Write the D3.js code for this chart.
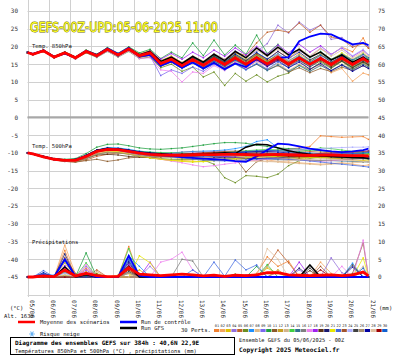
<!DOCTYPE html>
<html><head><meta charset="utf-8">
<script src="https://cdn.jsdelivr.net/npm/d3@7/dist/d3.min.js"></script>
<style>body{margin:0;background:#fff}svg{display:block}</style>
</head><body>
<svg id="c" width="395" height="355"></svg>
<script>
// ---------------- DATA ----------------
const hours = [0,6,18,30,42,54,66,78,90,102,114,126,138,150,162,174,186,198,210,222,234,246,258,270,282,294,306,318,330,342,354,366,378,384];
const dayLabels = ["05/06","06/06","07/06","08/06","09/06","10/06","11/06","12/06","13/06","14/06","15/06","16/06","17/06","18/06","19/06","20/06","21/06"];
const leftTicks = [30,25,20,15,10,5,0,-5,-10,-15,-20,-25,-30,-35,-40,-45];
const rightTicks = [75,70,65,60,55,50,45,40,35,30,25,20,15,10,5,0];
const memberNames = ["01","02","03","04","05","06","07","08","09","10","11","12","13","14","15","16","17","18","19","20","21","22","23","24","25","26","27","28","29","30"];
const memberColors = ["#f08030","#f4a460","#e0c000","#9370db","#c0602a","#6b8e23","#1e90ff","#deb887","#7b68ee","#20a040","#8b5a2b","#c8a020","#d2b48c","#40d040","#2f6f8f","#808080","#ee82ee","#a020f0","#5c3317","#191970","#e8e800","#4169e1","#a0522d","#b0b0ff","#404040","#a89070","#0000a0","#e0c0a0","#a00000","#1060d0"];

const t850Mean = [18.3,17.8,18.8,17.0,18.2,16.8,18.6,17.4,19.2,17.6,19.3,17.4,18.2,15.2,16.4,14.6,16.3,14.7,16.6,14.9,16.8,15.0,16.9,15.1,17.0,15.0,16.8,15.0,16.6,14.9,16.7,14.9,16.6,15.6];
const t850Control = [18.3,17.9,18.9,17.1,18.0,16.9,18.8,17.6,19.4,17.9,19.6,17.2,17.6,14.6,15.8,14.0,15.5,13.8,15.4,13.6,15.2,14.2,16.5,14.9,16.8,17.0,21.5,22.8,23.6,23.4,22.0,20.6,21.0,20.4];
const t850Gfs = [18.4,17.9,18.9,17.1,18.3,16.9,18.7,17.6,19.4,17.7,19.5,17.6,18.6,15.8,17.0,15.2,17.2,15.6,17.8,16.0,18.6,16.8,19.6,17.4,19.8,17.6,19.2,17.0,18.4,16.2,17.6,15.6,17.0,16.0];
const t850Perts = [
[18.4,17.9,18.9,17.2,18.4,17.0,18.9,17.8,19.6,17.9,19.8,17.9,18.9,15.9,17.2,15.5,17.0,15.3,17.1,15.4,17.5,15.8,17.9,16.3,18.6,16.8,18.9,17.0,19.4,17.6,19.8,18.5,22.4,19.5],
[18.2,17.7,18.6,16.9,18.0,16.6,18.3,17.1,18.8,17.3,18.9,16.9,17.5,14.6,15.8,14.0,15.5,13.8,15.7,14.0,16.0,14.2,16.2,14.5,16.4,14.3,16.0,13.6,15.0,12.6,13.8,10.2,12.5,12.0],
[18.3,17.8,18.7,17.1,18.3,16.9,18.7,17.5,19.4,17.8,19.5,17.8,18.7,16.0,17.3,15.4,17.2,15.7,17.8,16.0,18.2,16.3,18.1,15.9,17.4,15.2,16.5,14.6,16.0,14.2,15.8,14.1,15.9,15.0],
[18.3,17.8,18.8,17.0,18.1,16.8,18.5,17.3,19.0,17.5,19.1,17.3,18.0,15.4,16.8,15.3,17.2,15.6,17.9,16.4,18.8,17.0,18.6,20.8,26.0,23.8,26.9,24.6,26.0,22.0,22.5,20.2,21.0,20.0],
[18.2,17.7,18.7,16.9,18.2,16.7,18.6,17.2,19.1,17.5,19.2,17.0,17.7,15.0,16.2,14.5,16.6,15.2,17.4,15.8,18.2,17.5,21.0,24.0,24.6,24.0,26.6,24.0,26.0,22.7,22.0,19.8,20.8,19.5],
[18.2,17.7,18.6,16.9,18.0,16.5,18.2,16.9,18.6,17.0,18.6,16.6,17.0,14.0,15.0,13.0,14.2,11.4,12.8,9.0,12.4,10.2,12.0,10.0,11.6,12.5,14.8,13.4,15.6,13.8,15.8,13.6,15.4,14.4],
[18.4,17.9,18.9,17.1,18.3,17.0,18.8,17.6,19.5,17.9,19.6,17.7,18.6,15.8,17.0,15.0,16.8,15.3,17.2,15.6,17.9,16.0,18.3,16.5,18.0,16.0,17.5,15.5,17.0,15.0,16.5,14.4,16.0,15.2],
[18.3,17.8,18.8,17.0,18.2,16.8,18.7,17.5,19.3,17.7,19.4,17.6,18.4,15.5,16.9,14.9,16.6,14.8,16.4,14.5,16.0,14.0,15.7,13.5,15.2,13.2,15.0,13.0,14.8,13.2,15.0,13.4,15.2,14.4],
[18.2,17.6,18.6,16.8,18.0,16.5,18.4,17.1,18.9,17.3,19.0,17.0,17.4,11.8,13.4,12.4,14.2,13.0,15.0,13.5,15.6,13.9,16.0,14.2,16.4,14.6,16.8,15.0,17.2,15.2,17.4,15.4,17.5,16.2],
[18.4,17.9,19.0,17.2,18.5,17.1,19.0,17.8,19.7,18.1,19.9,18.2,19.2,16.6,18.4,16.8,21.0,17.4,21.8,17.6,20.4,17.8,23.2,18.0,20.6,17.2,19.4,16.8,18.6,16.4,18.0,16.0,17.6,16.4],
[18.3,17.7,18.7,16.9,18.1,16.7,18.5,17.2,19.0,17.4,19.1,17.2,17.9,15.0,16.0,14.2,15.8,14.0,15.6,13.9,15.4,13.6,15.0,13.4,14.6,12.8,14.0,12.6,13.8,12.9,14.2,13.2,14.6,13.8],
[18.3,17.8,18.8,17.1,18.3,16.9,18.7,17.5,19.3,17.7,19.4,17.5,18.3,15.4,16.6,14.8,16.6,15.0,17.0,15.4,17.4,15.6,17.6,15.8,17.8,15.9,17.9,16.0,17.6,15.6,17.2,15.2,16.8,15.8],
[18.2,17.8,18.7,17.0,18.2,16.8,18.6,17.4,19.2,17.6,19.3,17.4,18.1,15.1,16.3,14.3,15.9,14.2,16.0,14.2,16.0,14.3,16.2,14.6,16.6,14.8,17.0,15.4,17.5,16.0,18.0,16.4,18.2,17.0],
[18.3,17.9,18.9,17.2,18.4,17.0,18.8,17.6,19.4,17.8,19.5,17.6,18.5,15.7,17.0,15.2,17.0,15.4,17.4,15.5,17.6,15.6,17.6,15.6,17.4,15.3,17.0,15.0,16.6,14.6,16.2,14.2,15.8,14.8],
[18.3,17.8,18.8,17.0,18.2,16.8,18.6,17.3,19.1,17.5,19.2,17.3,17.9,14.8,16.0,14.0,15.5,13.8,15.4,13.6,15.2,13.5,15.0,13.2,14.8,13.0,14.6,13.0,14.6,13.2,14.8,13.5,15.0,14.2],
[18.3,17.8,18.8,17.0,18.2,16.8,18.7,17.4,19.2,17.6,19.3,17.5,18.3,15.3,16.5,14.7,16.4,14.8,16.6,15.0,16.9,15.2,17.1,15.3,17.2,15.2,17.0,15.1,16.8,15.0,16.9,15.0,16.8,15.7],
[18.3,17.7,18.7,16.9,18.1,16.6,18.4,17.0,18.7,17.1,18.8,16.6,16.8,13.4,13.0,10.0,12.8,12.4,14.6,13.2,15.4,13.8,16.0,14.3,16.5,14.6,16.8,14.8,17.0,15.0,17.2,15.2,17.4,16.0],
[18.3,17.9,18.9,17.1,18.3,16.9,18.8,17.5,19.4,17.8,19.5,17.7,18.7,16.4,18.0,16.4,18.4,16.8,19.0,17.2,19.6,17.6,20.0,17.8,20.4,18.2,20.6,18.4,20.2,17.8,19.6,17.2,19.0,17.6],
[18.2,17.7,18.6,16.8,18.0,16.6,18.4,17.1,18.9,17.3,19.0,17.0,17.5,14.4,15.6,13.8,15.6,14.0,16.0,14.4,16.4,14.8,16.8,15.0,17.0,15.1,16.9,14.8,16.4,14.4,16.0,14.0,15.6,14.8],
[18.4,17.9,18.9,17.1,18.3,16.9,18.7,17.5,19.3,17.7,19.4,17.6,18.4,15.4,16.7,15.0,16.9,15.3,17.3,15.6,17.8,16.0,18.2,16.4,18.6,16.6,18.4,16.2,17.8,15.6,17.2,15.0,16.6,15.6],
[18.3,17.8,18.8,17.0,18.2,16.8,18.6,17.4,19.2,17.6,19.3,17.4,18.2,15.2,16.4,14.6,16.2,14.6,16.4,14.7,16.5,14.8,16.6,14.9,16.8,15.2,17.3,15.6,17.8,16.0,18.2,16.2,18.0,16.8],
[18.3,17.8,18.7,16.9,18.1,16.7,18.5,17.2,19.0,17.4,19.1,17.1,17.8,14.6,15.8,13.8,15.4,13.6,15.2,13.4,15.0,13.4,15.2,13.6,15.6,14.0,16.0,14.4,16.4,14.8,16.8,15.0,17.0,15.6],
[18.2,17.8,18.7,17.0,18.2,16.8,18.6,17.4,19.2,17.6,19.3,17.5,18.2,15.2,16.4,14.7,16.5,14.9,16.9,15.4,17.4,15.8,17.8,16.0,17.6,15.6,17.2,15.2,16.8,14.8,16.4,14.5,16.2,15.2],
[18.3,17.8,18.8,17.0,18.2,16.8,18.6,17.4,19.2,17.6,19.3,17.4,18.2,15.0,16.2,14.4,16.0,14.4,16.2,14.6,16.4,14.8,16.8,15.2,17.6,16.2,18.8,17.2,19.6,17.6,19.8,17.4,19.2,17.6],
[18.3,17.8,18.8,17.0,18.2,16.8,18.7,17.5,19.3,17.7,19.4,17.6,18.4,15.6,16.9,15.1,16.9,15.2,17.1,15.3,17.2,15.2,17.0,14.9,16.6,14.5,16.2,14.2,16.0,14.0,15.9,14.0,15.8,14.8],
[18.2,17.7,18.7,16.9,18.1,16.7,18.5,17.3,19.1,17.5,19.2,17.3,18.0,15.0,16.2,14.5,16.2,14.6,16.5,14.9,16.9,15.2,17.2,15.4,17.4,15.4,17.2,15.2,17.0,15.0,16.8,14.7,16.5,15.4],
[18.3,17.9,18.9,17.1,18.3,16.9,18.8,17.5,19.3,17.7,19.4,17.5,18.4,15.4,16.6,14.8,16.5,14.8,16.6,14.8,16.6,14.7,16.4,14.4,16.0,14.0,15.6,13.6,15.2,13.2,14.8,13.0,14.6,13.8],
[18.3,17.8,18.8,17.0,18.2,16.8,18.6,17.3,19.1,17.5,19.2,17.4,18.1,15.6,17.2,15.5,17.4,15.9,18.0,16.4,18.6,16.8,19.0,17.1,19.3,17.3,19.5,17.4,19.4,17.2,19.0,16.8,18.6,17.4],
[18.3,17.8,18.8,17.0,18.2,16.8,18.7,17.4,19.2,17.6,19.3,17.5,18.3,15.3,16.5,14.8,16.4,14.8,16.4,14.7,16.3,14.6,16.2,14.6,16.3,14.8,16.6,15.0,16.9,15.2,17.0,15.2,16.9,15.8],
[18.3,17.8,18.8,17.0,18.2,16.8,18.6,17.3,19.0,17.4,19.1,17.2,17.9,14.9,16.0,14.2,15.8,14.2,15.9,14.3,16.1,14.5,16.4,14.8,16.8,15.2,17.2,15.6,17.6,16.0,17.8,16.2,17.8,16.8]
];

const t500Mean = [-10.0,-10.3,-11.1,-11.8,-12.1,-12.1,-11.0,-9.6,-9.0,-9.1,-9.6,-10.1,-10.4,-10.6,-10.7,-10.7,-10.6,-10.5,-10.5,-10.4,-10.4,-10.5,-10.6,-10.5,-10.4,-10.5,-10.6,-10.7,-10.6,-10.6,-10.7,-10.8,-10.8,-10.9];
const t500Control = [-10.0,-10.3,-11.1,-11.8,-12.1,-12.0,-10.9,-9.5,-8.9,-9.0,-9.4,-9.9,-10.3,-10.6,-10.9,-11.2,-11.4,-11.6,-11.8,-12.0,-12.3,-12.5,-11.0,-9.2,-7.4,-7.6,-8.2,-8.8,-9.2,-9.6,-9.8,-9.6,-9.2,-8.8];
const t500Gfs = [-10.0,-10.3,-11.0,-11.7,-12.0,-11.9,-10.8,-9.3,-8.8,-8.9,-9.3,-9.8,-10.1,-10.3,-10.5,-10.6,-10.6,-10.4,-10.2,-10.0,-10.2,-8.4,-7.6,-7.7,-8.6,-9.4,-10.0,-10.4,-10.8,-11.0,-11.2,-11.3,-11.4,-11.5];
const t500Perts = [
[-10.0,-10.3,-11.0,-11.7,-12.0,-12.0,-10.8,-9.4,-8.8,-9.0,-9.5,-10.0,-10.2,-10.3,-10.1,-9.8,-9.6,-9.8,-10.0,-10.2,-10.0,-9.8,-9.6,-9.5,-9.2,-9.0,-8.6,-8.2,-5.2,-5.4,-5.6,-5.5,-5.4,-6.2],
[-10.0,-10.4,-11.2,-11.9,-12.3,-12.4,-11.5,-10.2,-9.6,-9.8,-10.3,-10.9,-11.4,-11.8,-12.0,-12.2,-12.0,-11.8,-11.5,-11.2,-11.0,-11.2,-11.6,-12.0,-12.4,-12.6,-12.8,-13.0,-13.2,-13.0,-12.8,-13.2,-13.6,-13.4],
[-10.0,-10.3,-11.1,-11.8,-12.2,-12.3,-11.3,-9.9,-9.4,-9.6,-10.2,-10.8,-11.3,-11.8,-12.2,-12.4,-12.6,-12.4,-12.0,-11.6,-11.2,-11.0,-10.9,-11.2,-11.6,-11.8,-11.6,-11.4,-11.2,-11.4,-11.7,-12.0,-12.2,-12.0],
[-10.0,-10.2,-11.0,-11.6,-11.9,-11.8,-10.6,-9.2,-8.6,-8.7,-9.1,-9.6,-9.9,-10.1,-10.3,-10.2,-10.0,-9.8,-9.6,-9.5,-9.6,-9.8,-9.6,-9.4,-9.2,-9.0,-8.8,-9.0,-9.3,-9.6,-10.0,-10.4,-10.6,-10.8],
[-10.0,-10.3,-11.2,-12.0,-12.4,-12.6,-12.0,-11.0,-10.4,-10.0,-10.2,-10.6,-10.8,-10.9,-11.0,-11.2,-11.4,-11.2,-10.9,-10.6,-10.4,-10.2,-10.0,-9.8,-9.6,-9.5,-9.4,-9.6,-9.8,-10.0,-10.2,-10.0,-9.8,-9.6],
[-10.0,-10.4,-11.2,-11.9,-12.3,-12.4,-11.6,-10.4,-9.8,-9.9,-10.4,-11.0,-11.4,-11.6,-11.8,-11.9,-11.8,-12.0,-13.2,-17.0,-18.4,-16.4,-16.6,-17.0,-16.0,-13.6,-12.2,-11.6,-11.2,-11.0,-11.2,-11.4,-11.6,-11.8],
[-10.0,-10.3,-11.0,-11.7,-12.0,-11.9,-10.7,-9.2,-8.5,-8.6,-9.0,-9.5,-9.8,-10.0,-10.0,-9.8,-9.6,-9.5,-9.4,-9.2,-8.8,-8.2,-6.8,-6.3,-8.6,-9.6,-10.2,-10.6,-10.8,-11.0,-11.2,-11.4,-11.5,-11.6],
[-10.0,-10.3,-11.1,-11.8,-12.1,-12.0,-10.9,-9.5,-8.9,-9.0,-9.4,-9.9,-10.2,-10.4,-10.6,-10.8,-11.0,-11.2,-11.4,-11.6,-11.8,-12.0,-12.2,-12.4,-12.6,-12.8,-13.0,-13.2,-13.4,-13.2,-13.0,-12.8,-12.6,-12.4],
[-10.0,-10.3,-11.2,-11.9,-12.2,-12.1,-11.1,-9.7,-9.2,-9.4,-9.9,-10.4,-10.8,-11.0,-11.2,-11.0,-10.8,-10.6,-10.4,-10.2,-10.0,-10.0,-10.2,-10.4,-10.6,-10.8,-11.0,-11.2,-11.0,-10.8,-10.6,-10.4,-10.2,-10.0],
[-10.0,-10.3,-11.0,-11.6,-11.8,-11.6,-10.2,-8.4,-7.6,-7.5,-8.0,-8.6,-8.9,-9.0,-8.8,-8.6,-8.2,-7.8,-7.4,-7.1,-7.1,-7.3,-7.8,-8.2,-8.6,-8.8,-9.0,-9.2,-9.4,-9.6,-9.8,-10.0,-10.2,-10.4],
[-10.0,-10.4,-11.3,-12.0,-12.4,-12.6,-12.2,-11.8,-12.4,-12.0,-11.4,-11.2,-11.3,-11.2,-11.0,-10.8,-10.6,-10.6,-10.8,-11.0,-11.5,-15.4,-12.5,-11.6,-11.2,-11.0,-10.8,-10.6,-10.4,-10.6,-10.8,-11.0,-11.2,-11.4],
[-10.0,-10.3,-11.1,-11.8,-12.1,-12.1,-11.0,-9.6,-9.1,-9.3,-9.8,-10.3,-10.7,-11.0,-11.3,-11.6,-11.8,-12.0,-12.2,-12.0,-11.8,-11.5,-11.2,-11.0,-10.8,-10.9,-11.0,-11.2,-11.4,-11.6,-11.5,-11.4,-11.3,-11.2],
[-10.0,-10.3,-11.1,-11.8,-12.1,-12.0,-10.9,-9.5,-9.0,-9.1,-9.6,-10.1,-10.4,-10.6,-10.8,-11.0,-11.2,-11.4,-11.6,-11.5,-11.3,-11.0,-10.8,-10.5,-10.2,-10.0,-10.0,-10.2,-10.4,-10.6,-10.8,-11.0,-11.1,-11.2],
[-10.0,-10.2,-11.0,-11.7,-12.0,-11.9,-10.8,-9.3,-8.7,-8.8,-9.2,-9.6,-9.8,-9.9,-10.0,-10.1,-10.2,-10.2,-10.0,-9.8,-9.6,-9.4,-9.2,-9.0,-9.2,-9.4,-9.6,-9.2,-8.6,-8.8,-9.2,-9.6,-9.9,-10.2],
[-10.0,-10.3,-11.1,-11.8,-12.1,-12.1,-11.1,-9.7,-9.2,-9.4,-9.9,-10.4,-10.8,-11.0,-11.1,-11.2,-11.2,-11.1,-11.0,-11.0,-11.2,-11.4,-11.6,-11.8,-11.9,-12.0,-12.0,-12.1,-12.2,-12.2,-12.3,-12.4,-12.5,-12.6],
[-10.0,-10.3,-11.1,-11.8,-12.1,-12.1,-11.0,-9.6,-9.0,-9.1,-9.6,-10.1,-10.4,-10.9,-11.0,-11.0,-10.9,-10.8,-10.8,-10.7,-10.7,-10.8,-10.9,-10.8,-10.7,-10.8,-10.9,-11.0,-10.9,-10.9,-11.0,-11.1,-11.1,-11.2],
[-10.0,-10.4,-11.2,-11.9,-12.3,-12.3,-11.3,-9.9,-9.4,-9.6,-10.2,-10.8,-11.3,-11.8,-12.3,-12.8,-13.4,-13.9,-13.6,-13.2,-12.8,-12.4,-12.0,-11.8,-11.6,-11.8,-12.0,-12.2,-12.4,-12.2,-12.0,-11.8,-11.6,-11.5],
[-10.0,-10.2,-11.0,-11.7,-12.0,-11.9,-10.8,-9.4,-8.8,-8.9,-9.3,-9.8,-10.1,-10.2,-10.3,-10.4,-10.5,-10.6,-10.8,-11.0,-11.2,-11.4,-11.6,-11.4,-11.2,-11.0,-10.8,-10.6,-10.4,-10.2,-10.0,-9.8,-9.6,-9.4],
[-10.0,-10.3,-11.2,-11.9,-12.3,-12.4,-11.6,-10.6,-10.4,-10.6,-11.0,-11.2,-11.2,-11.0,-10.8,-10.6,-10.5,-10.4,-10.3,-10.2,-10.2,-10.4,-10.6,-10.8,-11.0,-11.2,-11.4,-11.3,-11.2,-11.0,-10.8,-10.7,-10.6,-10.5],
[-10.0,-10.3,-11.0,-11.7,-12.0,-12.0,-10.8,-9.3,-8.7,-8.8,-9.2,-9.7,-10.0,-10.2,-10.4,-10.6,-10.8,-11.0,-11.2,-11.4,-11.5,-11.6,-11.6,-11.5,-11.4,-11.2,-11.0,-10.9,-10.8,-10.9,-11.0,-11.2,-11.4,-11.5],
[-10.0,-10.3,-11.1,-11.8,-12.2,-12.2,-11.2,-9.8,-9.4,-9.7,-10.3,-10.9,-11.4,-11.8,-12.1,-12.3,-12.4,-12.5,-12.2,-11.9,-11.6,-11.4,-11.2,-11.1,-11.0,-11.1,-11.2,-11.3,-11.4,-11.2,-11.0,-10.8,-10.7,-10.6],
[-10.0,-10.3,-11.1,-11.8,-12.1,-12.0,-10.9,-9.4,-8.9,-9.0,-9.5,-10.0,-10.4,-10.7,-11.0,-11.4,-11.8,-12.0,-12.2,-12.3,-12.2,-12.0,-11.8,-11.6,-11.6,-11.8,-12.0,-12.3,-12.6,-12.9,-13.2,-13.5,-13.8,-14.0],
[-10.0,-10.3,-11.1,-11.8,-12.1,-12.1,-11.1,-9.7,-9.2,-9.3,-9.7,-10.1,-10.4,-10.5,-10.5,-10.4,-10.2,-10.0,-9.8,-9.6,-9.5,-9.6,-9.8,-10.0,-10.2,-10.4,-10.5,-10.4,-10.2,-10.0,-9.8,-9.7,-9.6,-9.5],
[-10.0,-10.3,-11.0,-11.7,-12.0,-12.0,-10.9,-9.5,-9.0,-9.2,-9.7,-10.2,-10.6,-10.9,-11.1,-11.2,-11.2,-11.0,-10.8,-10.6,-10.4,-10.2,-10.0,-9.8,-9.6,-9.4,-9.2,-9.0,-8.8,-8.6,-8.5,-8.4,-8.4,-8.3],
[-10.0,-10.3,-11.1,-11.8,-12.1,-12.1,-11.0,-9.6,-9.1,-9.2,-9.7,-10.2,-10.6,-10.9,-11.0,-11.0,-10.9,-10.8,-10.6,-10.4,-10.2,-10.1,-10.0,-10.1,-10.2,-10.4,-10.6,-10.8,-11.0,-11.2,-11.4,-11.5,-11.6,-11.6],
[-10.0,-10.4,-11.2,-12.0,-12.4,-12.5,-11.6,-10.4,-9.9,-10.0,-10.4,-10.8,-11.0,-11.1,-11.0,-10.9,-10.8,-10.7,-10.6,-10.6,-10.7,-10.8,-11.0,-11.2,-11.4,-11.6,-11.8,-12.0,-12.1,-12.0,-11.9,-11.8,-11.7,-11.6],
[-10.0,-10.3,-11.1,-11.8,-12.0,-11.9,-10.7,-9.2,-8.7,-8.9,-9.4,-9.9,-10.2,-10.4,-10.5,-10.6,-10.6,-10.5,-10.4,-10.2,-10.0,-9.8,-9.6,-9.6,-9.8,-10.0,-10.2,-10.4,-10.6,-10.8,-11.0,-11.2,-11.4,-11.6],
[-10.0,-10.3,-11.1,-11.8,-12.1,-12.0,-10.9,-9.5,-9.0,-9.2,-9.7,-10.2,-10.5,-10.7,-10.9,-11.1,-11.3,-11.5,-11.7,-11.9,-12.1,-12.3,-12.4,-12.5,-12.4,-12.2,-12.0,-11.8,-11.7,-11.8,-12.0,-12.2,-12.4,-12.6],
[-10.0,-10.3,-11.1,-11.8,-12.1,-12.1,-11.0,-9.6,-9.1,-9.2,-9.6,-10.0,-10.3,-10.4,-10.4,-10.3,-10.2,-10.1,-10.0,-10.0,-10.1,-10.2,-10.4,-10.6,-10.8,-11.0,-11.1,-11.0,-10.9,-10.8,-10.8,-10.9,-11.0,-11.0],
[-10.0,-10.3,-11.0,-11.7,-12.0,-11.9,-10.8,-9.4,-8.9,-9.1,-9.6,-10.1,-10.5,-10.8,-11.0,-11.1,-11.0,-10.8,-10.5,-10.2,-9.9,-9.6,-9.4,-9.3,-9.4,-9.6,-9.8,-10.0,-10.2,-10.4,-10.3,-10.2,-10.0,-9.8]
];

const precMean = [0,0,0.3,0.1,2.0,0.3,1.0,0.4,0.1,0.2,2.6,0.8,0.6,0.4,0.6,0.8,0.6,0.3,0.5,0.2,0.5,0.4,0.6,1.2,1.2,0.6,0.5,0.4,0.5,0.6,0.4,0.6,1.4,0.3];
const precControl = [0,0,0.5,0,5.0,0.2,1.0,0,0,0,6.0,0.4,0,0,0,0,0,0,0,0,0,0,0,0,0,0,0,0,0,0,0,0,0,0];
const precGfs = [0,0,0.2,0,2.8,0,0.6,0,0,0,3.0,0,0,0,0,0,0,0,0,0,0,0,0,0,0,0,0,3.4,0,0,0,0,0,0];
const precPerts = [
[0,0,0,0,7.5,0,2.5,0,0,0,8.6,0,0,0,0,0,0,0,0,0,0,0,1.0,5.7,3.0,4.5,0,0,0,0,0,0,1.5,0],
[0,0,0,0,9.0,0.8,0,0,0,0,0,0,0,0,0,0,0,0,0,0,0,0,0,0,0,0,0,0,4.2,1.0,0,0,0,0],
[0,0,0,0,0.5,0,0,1.0,0,0.5,0,2.0,0,0,0,0,0,0,0,0,0,0,0,2.5,1.0,0,0,0,0,0,0,0,0,0],
[0,0,0,0,0,0,3.0,0,0,0,0,0,3.0,0,0,0,0,0,0,0,0,0,0,0,0,0,2.0,0,0,5.4,1.2,0,0,0],
[0,0,0,0,5.5,1.0,0,2.0,0,0,3.2,0,0,0,0,0,0,0,0,0,0,0,0,3.0,7.6,4.0,0,0,0,0,0,0,0,0],
[0,0,0,0,0.3,0,0.5,0,0,0,0,0,0,0,0,0,0,0,0,0,0.8,0,0,0,0,0,0,0,0,0,0,0,0,0],
[0,0,0.8,0.5,4.5,0,0,0,0,0,6.0,3.0,0,0,0,0,0,0,0,0,0,0,0,0,0,0,0,0,0,0,0,3.9,0,0],
[0,0,0,0,3.0,0,0,0,0,0.4,0,1.0,0,0,0,0,0,0,0,0,0,0,0,0,1.5,0,0,0,0,0,0,0,0,0],
[0,0,0.6,0,0,0,0,0,0,0,3.0,0,0,0,0,0,0,0,0,0,0,0.6,0,0,0,0,0,0,0,0,0,0,0,0],
[0,0,0,0,1.5,0,6.8,0,0,0,0,0,0,0,0,0,0,0,0,0,0,0,3.0,0,0,0,0,0,0,0,0,0,0,0],
[0,0,0,0,0.2,0,0,0,0,0,1.0,0,0,0,0,0,0,0,0,0,0,0,0,0,0,0,0,0,0,0,0,1.0,9.6,0],
[0,0,0,0,4.0,0,1.5,0,0,0,2.0,0,0,0,0,0,0,0,0,0,0,0,0,0,2.0,0,0,0,0,0,0,0,0,0],
[0,0,0,0,0,0,0,1.5,0,0,1.0,0,0,0,0,0,0,0,0,0,0,0,0,3.0,0,0,0,0,0,0,0,0,3.0,0],
[0,0,0,0,5.0,0,4.0,0,0,0,8.0,0,0,0,0,0,0,0,0,0,0,0,0,3.5,0,0,0,0,0,0,0,0,0,0],
[0,0,0,0,0.4,0,0,0,0,0,2.8,0,0,0,0,0,0,0,0,0,0,0,0,0,0,0,0,0,0,0,0,0,0,0],
[0,0,0,0,1.2,0,0,0,0,0,2.5,0,0,0,0,5.0,4.5,0,0,0,0,0,0,0,0,0,0,0,0,0,0,0,0,0],
[0,0,0,0,0,0,3.5,0,0,0,0,0,0,4.2,5.0,7.0,2.0,0,0,0,0,0,0,0,0,0,0,0,0,0,3.0,0,10.4,0],
[0,0,0,0,3.2,0,2.0,0,0,0,3.5,0,4.2,0,0,0,0,0,0,0,0,0,0,0,0,0,4.2,0,0,0,0,0,0,0],
[0,0,0,0,0,0,0,0.8,0,0,0,0,0,0,0,0,0,0,0,0,0,0,0,0,0,0,0,1.8,0,0,0,0,0,0],
[0,0,0,0,6.5,0,1.2,0,0,0,4.0,0,0,0,0,0,0,0,0,0,0,0,0,0,0,0,2.5,0,0,0,0,0,0,0],
[0,0,0,0,0.6,0,0,0,0,0,0,6.0,4.0,0,0,0,0,0,0,0,0,0,0,0,0,0,0,0,0,0,0,0,5.4,0],
[0,0,1.8,0,2.8,0,0,0,0,0,5.5,0,0,0,0,0,2.0,0,4.2,0.2,4.8,2.0,3.4,0,0,0,0,0,0,0,0,0,0,0],
[0,0,0,0,0,0,0,0,0,0,0,0,0,0,0,0,0,0,0,0,0,0,0,0,0,0,0,0,3.0,0,0,0,0,0],
[0,0,0,0,1.0,0,0.8,0,0,0,1.5,0,0,0,0,0,0,0,0,0,0,0,0,0,0,0,0,0,0,0,0,0,0,0],
[0,0,0,0,0,0,0,0,0,0,1.5,0,0,0,0,0,0,0,0,0,0,0,0,0,0,0,0,2.5,0,0,0,3.4,0,0],
[0,0,0,0,0.2,0,0,0,0,0,1.2,0,0,0,0,0,0,0,0,0,0,0,0,0,1.5,0,0,0,0,0,0,0,0,0],
[0,0,1.2,0,4.8,0,0,0,0,0,4.5,0,0,0,0,0,0,0,0,0,0,0,0,0,0,0,0,0,0,0,0,2.8,0,0],
[0,0,0,0,0.6,0,1.0,0,0,0,0,0,0,0,0,0,0,0,0,0,0,0,0,8.0,5.0,0,0,0,0,0,0,0,0,0],
[0,0,0,0,0,0,0,0,0,0,2.0,0,0,0,0,0,0,0,0,0,0,0,0,0,0,0,0,0,2.0,0,0,0,0,0],
[0,0,1.0,0,2.2,0,0,0,0,0,5.0,0,0,0,0,0,0,0,0,0,0,0,0,0,0,0,0,0,0,0,0,0,2.5,0]
];

// ---------------- DRAW ----------------
const svg = d3.select("#c");
const X0 = 27.5, X1 = 368.5, YB = 297;
const x = d3.scaleLinear().domain([0,384]).range([X0,X1]);
const y = d3.scaleLinear().domain([30,-45]).range([11,277]);
const yR = d3.scaleLinear().domain([75,0]).range([11,277]);
const mono = "'DejaVu Sans Mono', monospace";

svg.append("rect").attr("width",395).attr("height",355).attr("fill","#fff");

// grid
const grid = svg.append("g");
const hVals = d3.range(30,-51,-5);
grid.selectAll("line.h").data(hVals).join("line")
  .attr("x1",X0).attr("x2",X1)
  .attr("y1",d=>Math.round(y(d))+0.5).attr("y2",d=>Math.round(y(d))+0.5)
  .attr("stroke","#d0d0d0").attr("stroke-width",1);
grid.selectAll("line.v").data(d3.range(0,17)).join("line")
  .attr("x1",d=>Math.round(x(d*24))+0.5).attr("x2",d=>Math.round(x(d*24))+0.5)
  .attr("y1",0).attr("y2",YB)
  .attr("stroke","#d0d0d0").attr("stroke-width",1);
grid.append("line").attr("x1",X0).attr("x2",X1)
  .attr("y1",y(0)).attr("y2",y(0)).attr("stroke","#a8a8a8").attr("stroke-width",2.2);

// axes
const axL = svg.append("g").attr("transform","translate(20,0)")
  .call(d3.axisLeft(y).tickValues(leftTicks).tickSize(0).tickPadding(2).tickFormat(d=>String(d)));
const axR = svg.append("g").attr("transform","translate(376,0)")
  .call(d3.axisRight(yR).tickValues(rightTicks).tickSize(0).tickPadding(2).tickFormat(d=>String(d)));
[axL,axR].forEach(a=>{
  a.select(".domain").remove();
  a.selectAll("text").attr("font-family",mono).attr("font-size",6).attr("fill","#333");
});

// date labels
svg.append("g").selectAll("text").data(dayLabels).join("text")
  .attr("transform",(d,i)=>`translate(${x(i*24)+2},300) rotate(90)`)
  .attr("font-family",mono).attr("font-size",6).attr("fill","#222")
  .text(d=>d);

// panel labels
const lab = [["Temp. 850hPa",47.5],["Temp. 500hPa",148],["Précipitations",244]];
svg.append("g").selectAll("text").data(lab).join("text")
  .attr("x",32).attr("y",d=>d[1]).attr("font-family",mono).attr("font-size",5.5).attr("fill","#111")
  .text(d=>d[0]);

// series
function drawGroup(perts, ctrl, gfs, mean, ys){
  const line = d3.line().x((d,i)=>x(hours[i])).y(d=>ys(d));
  const g = svg.append("g");
  perts.forEach((s,k)=>{
    g.append("path").attr("d",line(s)).attr("fill","none")
      .attr("stroke",memberColors[k]).attr("stroke-width",0.75);
    g.append("g").selectAll("rect").data(s).join("rect")
      .attr("x",(d,i)=>x(hours[i])-0.7).attr("y",d=>ys(d)-0.7)
      .attr("width",1.4).attr("height",1.4).attr("fill",memberColors[k]);
  });
  g.append("path").attr("d",line(gfs)).attr("fill","none").attr("stroke","#000").attr("stroke-width",1.5);
  g.append("path").attr("d",line(ctrl)).attr("fill","none").attr("stroke","#0000ff").attr("stroke-width",1.8);
  g.append("path").attr("d",line(mean)).attr("fill","none").attr("stroke","#ff0000").attr("stroke-width",2.8);
}
drawGroup(t850Perts,t850Control,t850Gfs,t850Mean,y);
drawGroup(t500Perts,t500Control,t500Gfs,t500Mean,y);
drawGroup(precPerts,precControl,precGfs,precMean,yR);

// title
svg.append("text").attr("x",30).attr("y",32)
  .attr("font-family","'DejaVu Sans', sans-serif").attr("font-size",13.5)
  .attr("textLength",188).attr("lengthAdjust","spacingAndGlyphs")
  .attr("fill","#ffff20").attr("stroke","#6b6b00").attr("stroke-width",0.9)
  .attr("paint-order","stroke")
  .text("GEFS-00Z-UPD:05-06-2025 11:00");

// bottom legend
const leg = svg.append("g").attr("font-family",mono).attr("fill","#111");
leg.append("text").attr("x",10).attr("y",310).attr("font-size",5.5).text("(°C)");
leg.append("text").attr("x",4).attr("y",318).attr("font-size",5.5).text("Alt. 1638");
leg.append("text").attr("x",379).attr("y",310).attr("font-size",5.5).text("(mm)");
leg.append("line").attr("x1",18).attr("x2",35).attr("y1",322).attr("y2",322).attr("stroke","#ff0000").attr("stroke-width",2.5);
leg.append("text").attr("x",40).attr("y",324).attr("font-size",5.5).text("Moyenne des scénarios");
leg.append("line").attr("x1",120).attr("x2",137).attr("y1",322).attr("y2",322).attr("stroke","#0000ff").attr("stroke-width",2.5);
leg.append("text").attr("x",141).attr("y",324).attr("font-size",5.5).text("Run de contrôle");
leg.append("line").attr("x1",120).attr("x2",137).attr("y1",328).attr("y2",328).attr("stroke","#000").attr("stroke-width",2.5);
leg.append("text").attr("x",141).attr("y",329.5).attr("font-size",5.5).text("Run GFS");
leg.append("text").attr("x",181).attr("y",332).attr("font-size",5.5).text("30 Perts.");
// snowflake
const sf = leg.append("g").attr("transform","translate(32,334)").attr("stroke","#5aaaf0").attr("stroke-width",0.9);
[0,60,120].forEach(a=>sf.append("line").attr("x1",-2.8).attr("x2",2.8).attr("y1",0).attr("y2",0).attr("transform",`rotate(${a})`));
leg.append("text").attr("x",40).attr("y",336).attr("font-size",5.5).text("Risque neige");
// member swatches
const sw = svg.append("g");
const swX = d3.scaleBand().domain(memberNames).range([214,388]);
sw.selectAll("rect").data(memberNames).join("rect")
  .attr("x",d=>swX(d)).attr("y",329).attr("width",swX.bandwidth()-0.6).attr("height",3)
  .attr("fill",(d,i)=>memberColors[i]);
sw.selectAll("text").data(memberNames).join("text")
  .attr("x",d=>swX(d)+swX.bandwidth()/2).attr("y",327).attr("text-anchor","middle")
  .attr("font-family",mono).attr("font-size",3.6).attr("fill","#222").text(d=>d);
// box
svg.append("rect").attr("x",10.5).attr("y",337.5).attr("width",224).attr("height",17)
  .attr("fill","none").attr("stroke","#000").attr("stroke-width",1);
svg.append("text").attr("x",15).attr("y",344.5).attr("font-family",mono).attr("font-size",6).attr("font-weight","bold")
  .attr("fill","#000").text("Diagramme des ensembles GEFS sur 384h : 40,6N 22,9E");
svg.append("text").attr("x",15).attr("y",352.5).attr("font-family",mono).attr("font-size",5.4)
  .attr("fill","#111").text("Températures 850hPa et 500hPa (°C) , précipitations (mm)");
svg.append("text").attr("x",239).attr("y",342).attr("font-family",mono).attr("font-size",5.3)
  .attr("fill","#111").text("Ensemble GEFS du 05/06/2025 - 00Z");
svg.append("text").attr("x",239).attr("y",351.5).attr("font-family",mono).attr("font-size",6.2).attr("font-weight","bold")
  .attr("fill","#000").text("Copyright 2025 Meteociel.fr");
</script>
</body></html>
